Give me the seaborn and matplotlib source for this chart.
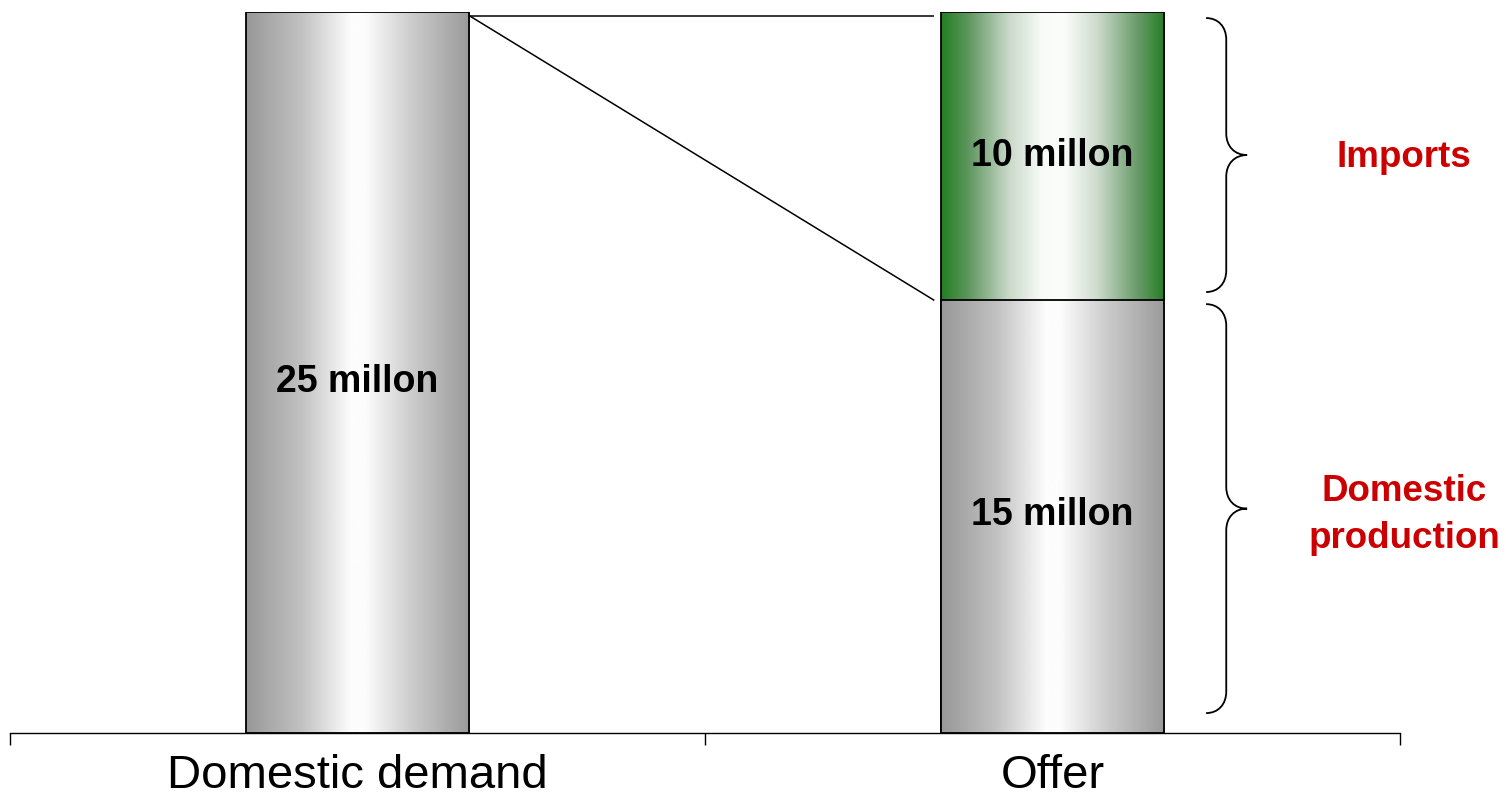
import numpy as np
import pandas as pd
import matplotlib
matplotlib.use("Agg")
import matplotlib.pyplot as plt
from matplotlib.path import Path
from matplotlib.patches import PathPatch
from matplotlib.colors import LinearSegmentedColormap
import seaborn as sns

# ---------------- data ----------------
categories = ["Domestic demand", "Offer"]
domestic_values = [25, 15]          # domestic demand / domestic production
import_values = [0, 10]             # imports (only on the offer side)
bar_labels_bottom = ["25 millon", "15 millon"]
bar_labels_top = ["", "10 millon"]
side_labels = ["Imports", "Domestic\nproduction"]

totals = [d + i for d, i in zip(domestic_values, import_values)]
df = pd.DataFrame({"category": categories, "domestic": domestic_values, "total": totals})

# ---------------- style ----------------
sns.set_theme(style="white")
plt.rcParams["font.family"] = ["Liberation Sans", "DejaVu Sans"]

fig = plt.figure(figsize=(15.06, 8.0), dpi=100)
ax = fig.add_axes([10 / 1506, 67 / 800, 1390 / 1506, 721 / 800])

BAR_W = 0.322
EDGE_LW = 1.3

# total bars (imports on top), then domestic bars over them
sns.barplot(data=df, x="category", y="total", order=categories, width=BAR_W,
            color="white", edgecolor="black", linewidth=EDGE_LW, ax=ax)
n_total = len(ax.patches)
sns.barplot(data=df, x="category", y="domestic", order=categories, width=BAR_W,
            color="white", edgecolor="black", linewidth=EDGE_LW, ax=ax)
total_patches = ax.patches[:n_total]
dom_patches = ax.patches[n_total:]

gray_cmap = LinearSegmentedColormap.from_list(
    "g", [(0.0, "#989898"), (0.25, "#c2c2c2"), (0.47, "#fdfdfd"),
          (0.53, "#fdfdfd"), (0.75, "#cacaca"), (1.0, "#9a9a9a")])
green_cmap = LinearSegmentedColormap.from_list(
    "gr", [(0.0, "#227f22"), (0.12, "#5e965e"), (0.3, "#c8d8c8"),
           (0.45, "#f8fbf8"), (0.55, "#fbfdfb"), (0.7, "#cddbcd"),
           (0.87, "#6e9e6e"), (1.0, "#267d26")])
grad = np.linspace(0, 1, 256).reshape(1, -1)


def fill_gradient(patch, cmap, z):
    x0, y0 = patch.get_x(), patch.get_y()
    w, h = patch.get_width(), patch.get_height()
    if h <= 0:
        return
    patch.set_facecolor("none")
    patch.set_zorder(z + 0.5)
    im = ax.imshow(grad, cmap=cmap, extent=[x0, x0 + w, y0, y0 + h],
                   aspect="auto", zorder=z, interpolation="bicubic")
    im.set_clip_path(patch)


for p, imp in zip(total_patches, import_values):
    if imp > 0:
        fill_gradient(p, green_cmap, 1)
    else:
        p.set_visible(False)
for p in dom_patches:
    fill_gradient(p, gray_cmap, 2)

ax.set_xlim(-0.5, len(categories) - 0.5)
ax.set_ylim(0, max(totals))

# labels inside bars (small vertical nudges in points)
bottom_label_nudge = [-7, 1.5]
for i, cat in enumerate(categories):
    if bar_labels_bottom[i]:
        ax.annotate(bar_labels_bottom[i], (i, domestic_values[i] / 2),
                    xytext=(0, bottom_label_nudge[i]), textcoords="offset points",
                    ha="center", va="center", fontsize=27, fontweight="bold",
                    color="black", zorder=5)
    if bar_labels_top[i]:
        ax.annotate(bar_labels_top[i], (i, domestic_values[i] + import_values[i] / 2),
                    xytext=(0, 0), textcoords="offset points",
                    ha="center", va="center", fontsize=27, fontweight="bold",
                    color="black", zorder=5)

# connector lines from demand bar to offer bar
x_start = 0 + BAR_W / 2
x_end = 1 - BAR_W / 2 - 0.009
y_demand = domestic_values[0] - 0.13
ax.plot([x_start, x_end], [y_demand, y_demand], color="black", lw=1.1,
        solid_capstyle="butt", zorder=4, clip_on=False)
ax.plot([x_start, x_end], [y_demand, domestic_values[1]], color="black", lw=1.1,
        solid_capstyle="butt", zorder=4, clip_on=False)


# curly braces
def brace(ax, y_lo, y_hi, x0=1.221, x1=1.250, x2=1.280, ry=0.75):
    ym = (y_lo + y_hi) / 2
    verts = [
        (x0, y_hi),
        (x0 + (x1 - x0) * 0.6, y_hi), (x1, y_hi - ry * 0.4), (x1, y_hi - ry),
        (x1, ym + ry),
        (x1, ym + ry * 0.4), (x1 + (x2 - x1) * 0.4, ym), (x2, ym),
        (x1 + (x2 - x1) * 0.4, ym), (x1, ym - ry * 0.4), (x1, ym - ry),
        (x1, y_lo + ry),
        (x1, y_lo + ry * 0.4), (x0 + (x1 - x0) * 0.6, y_lo), (x0, y_lo),
    ]
    codes = [Path.MOVETO,
             Path.CURVE4, Path.CURVE4, Path.CURVE4,
             Path.LINETO,
             Path.CURVE4, Path.CURVE4, Path.CURVE4,
             Path.CURVE4, Path.CURVE4, Path.CURVE4,
             Path.LINETO,
             Path.CURVE4, Path.CURVE4, Path.CURVE4]
    ax.add_patch(PathPatch(Path(verts, codes), facecolor="none",
                           edgecolor="black", lw=1.3, clip_on=False, zorder=4))
    return ym


ym1 = brace(ax, domestic_values[1] + 0.29, totals[1] - 0.21)
ym2 = brace(ax, 0.69, domestic_values[1] - 0.13)

side_nudge = [-1.5, -4.5]
for lab, ym, dy in zip(side_labels, [ym1, ym2], side_nudge):
    ax.annotate(lab, (1.506, ym), xytext=(0, dy), textcoords="offset points",
                ha="center", va="center", fontsize=26.5, fontweight="bold",
                color="#CC0000", linespacing=1.45, annotation_clip=False)

# axes styling
for s in ["left", "top", "right"]:
    ax.spines[s].set_visible(False)
ax.spines["bottom"].set_color("black")
ax.spines["bottom"].set_linewidth(1.0)
ax.set_yticks([])
ax.set_xlabel("")
ax.set_ylabel("")
ax.set_xticks(range(len(categories)))
ax.set_xticklabels(categories)
ax.set_xticks([-0.5, 0.5, 1.5], minor=True)
ax.tick_params(axis="x", which="major", length=0, pad=15, labelsize=34,
               labelcolor="black", bottom=True)
ax.tick_params(axis="x", which="minor", length=8.6, width=1.0, color="black",
               direction="out", bottom=True)
ax.set_facecolor("white")
fig.patch.set_facecolor("white")

fig.savefig("out.png", dpi=100)
